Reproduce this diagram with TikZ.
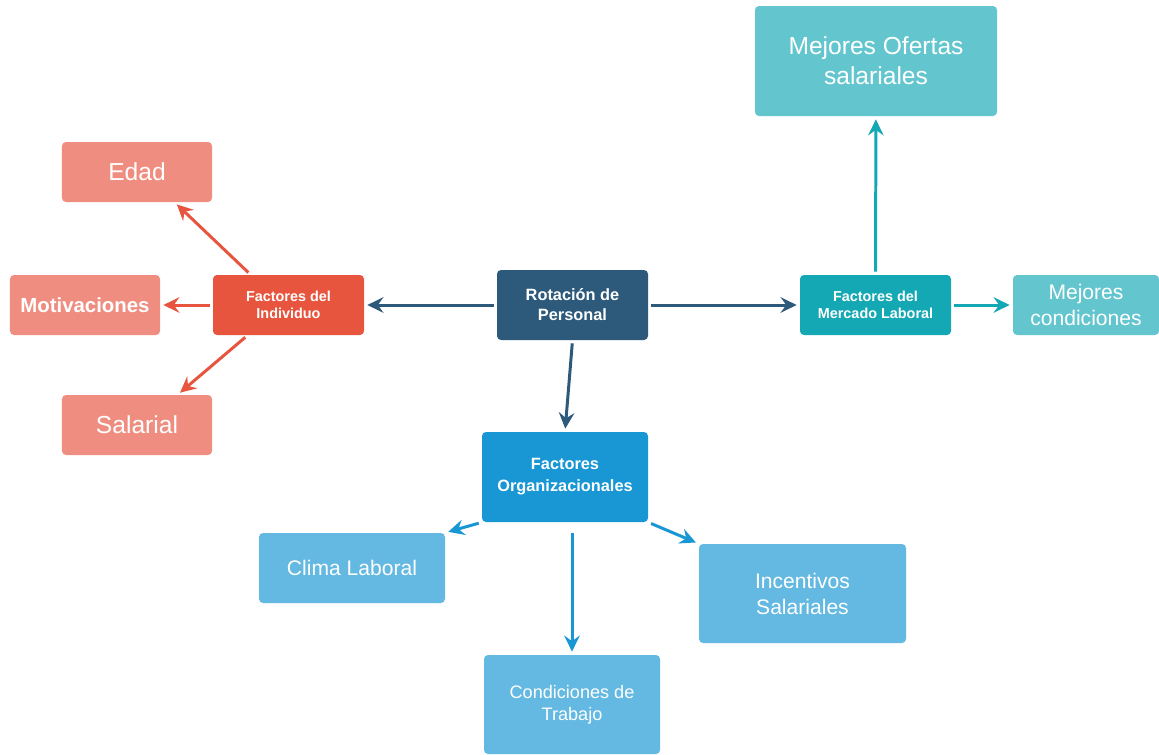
\documentclass[tikz,border=0pt]{standalone}
\usepackage{fontspec}
\setmainfont{Liberation Sans}
\usetikzlibrary{arrows.meta,calc}
\definecolor{rotc}{HTML}{2D5A7B}
\definecolor{indc}{HTML}{E8553F}
\definecolor{salc}{HTML}{F08D81}
\definecolor{merc}{HTML}{14A8B4}
\definecolor{tealc}{HTML}{63C6CE}
\definecolor{orgc}{HTML}{1897D4}
\definecolor{bluec}{HTML}{63B9E1}

\begin{document}
\begin{tikzpicture}[x=0.2mm, y=-0.2mm,
  bx/.style={rectangle, rounded corners=0.8mm, text=white, align=center,
    inner sep=0pt},
  mainb/.style={bx, font=\bfseries\fontsize{8.2}{9.7}\selectfont,
    minimum width=30.2mm, minimum height=12mm},
  salb/.style={bx, fill=salc, minimum width=30mm, minimum height=12mm},
  lnk/.style={-{Stealth[length=3.2mm, width=3.1mm, inset=1.1mm]},
    line width=1.7pt, shorten <=0.6mm, shorten >=0.6mm},
]
\useasboundingbox (0,0) rectangle (1159,754);

% centre
\node[mainb, fill=rotc, minimum height=14mm,
  font=\bfseries\fontsize{9.3}{11.4}\selectfont] (rot) at (572.5,305)
  {Rotación de\\Personal};

% individuo
\node[mainb, fill=indc] (ind) at (288.5,305) {Factores del\\Individuo};
\node[salb, font=\fontsize{14}{17}\selectfont] (edad) at (137,172) {Edad};
\node[salb, font=\bfseries\fontsize{11.6}{14}\selectfont] (mot) at (85,305)
  {Motivaciones};
\node[salb, font=\fontsize{14}{17}\selectfont] (sal) at (137,425) {Salarial};

% mercado
\node[mainb, fill=merc] (mer) at (875.5,305) {Factores del\\Mercado Laboral};
\node[bx, fill=tealc, minimum width=48.4mm, minimum height=22mm,
  font=\fontsize{14}{17}\selectfont] (ofe) at (876,61)
  {Mejores Ofertas\\salariales};
\node[bx, fill=tealc, minimum width=29.2mm, minimum height=12mm,
  font=\fontsize{12}{14.8}\selectfont] (mej) at (1086,305)
  {Mejores\\condiciones};

% organizacionales
\node[mainb, fill=orgc, minimum width=33.2mm, minimum height=18mm,
  font=\bfseries\fontsize{9.3}{12.5}\selectfont] (org) at (565,477)
  {Factores\\Organizacionales};
\node[bx, fill=bluec, minimum width=37.2mm, minimum height=14mm,
  font=\fontsize{12}{14.8}\selectfont] (cli) at (352,568) {Clima Laboral};
\node[bx, fill=bluec, minimum width=41.4mm, minimum height=19.8mm,
  font=\fontsize{12}{14.8}\selectfont] (inc) at (802.5,593.5)
  {Incentivos\\Salariales};
\node[bx, fill=bluec, minimum width=35.2mm, minimum height=19.8mm,
  font=\fontsize{10.3}{12.5}\selectfont] (con) at (572,704.5)
  {Condiciones de\\Trabajo};

\draw[lnk, rotc] (rot) -- (ind);
\draw[lnk, rotc] (rot) -- (mer);
\draw[lnk, rotc] (rot.south) -- (org.north);

\draw[lnk, indc] ($(ind.north west)!0.25!(ind.north east)$)
  -- ($(edad.south west)!0.75!(edad.south east)$);
\draw[lnk, indc] (ind) -- (mot);
\draw[lnk, indc] ($(ind.south west)!0.23!(ind.south east)$)
  -- ($(sal.north west)!0.77!(sal.north east)$);

\draw[lnk, merc] (mer) -- (ofe);
\draw[lnk, merc] (mer) -- (mej);

\draw[lnk, orgc] (org.south west) -- (cli.north east);
\draw[lnk, orgc] (org.south east) -- (inc.north west);
\draw[lnk, orgc, shorten <=2.2mm] (org.south -| con.north) -- (con.north);
\end{tikzpicture}
\end{document}
